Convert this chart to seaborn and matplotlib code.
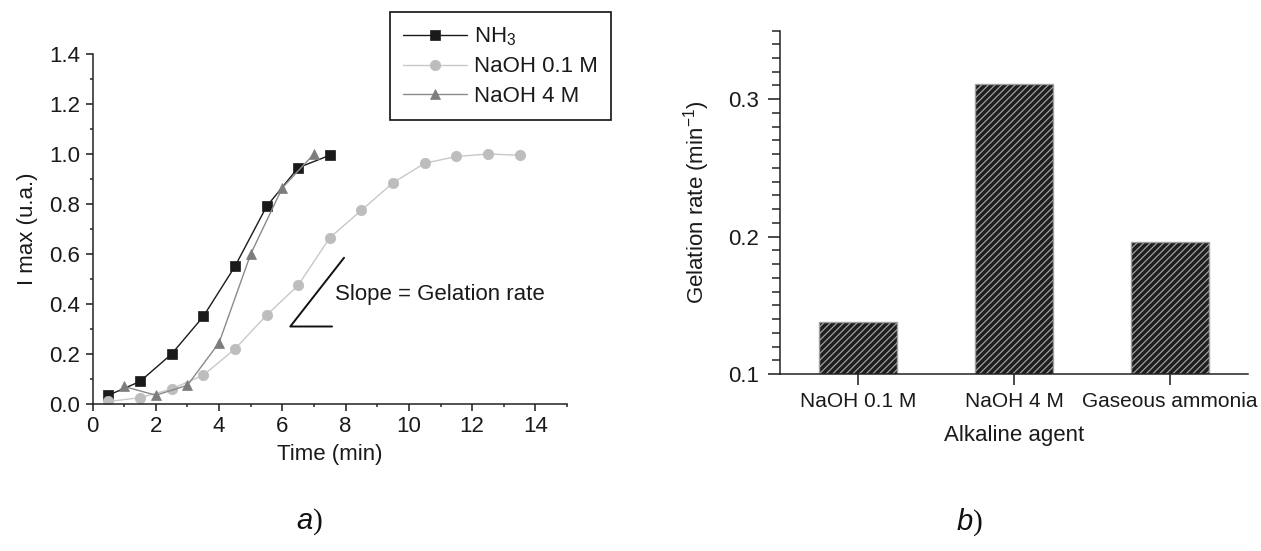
import numpy as np
import pandas as pd
import matplotlib
matplotlib.use("Agg")
import matplotlib.pyplot as plt
from matplotlib.ticker import MultipleLocator
import seaborn as sns

# Gelation kinetics (left panel)
nh3_time = [0.5, 1.5, 2.5, 3.5, 4.5, 5.5, 6.5, 7.5]
nh3_imax = [0.035, 0.09, 0.20, 0.35, 0.55, 0.79, 0.945, 0.995]

naoh01_time = [0.5, 1.5, 2.5, 3.5, 4.5, 5.5, 6.5, 7.5, 8.5, 9.5, 10.5, 11.5, 12.5, 13.5]
naoh01_imax = [0.01, 0.025, 0.06, 0.115, 0.22, 0.355, 0.475, 0.665, 0.775, 0.885,
               0.963, 0.99, 1.0, 0.995]

naoh4_time = [1.0, 2.0, 3.0, 4.0, 5.0, 6.0, 7.0]
naoh4_imax = [0.07, 0.035, 0.075, 0.245, 0.60, 0.865, 1.0]

# Gelation rate per alkaline agent (right panel)
agents = ["NaOH 0.1 M", "NaOH 4 M", "Gaseous ammonia"]
rates = [0.1375, 0.311, 0.196]

sns.set_theme(style="ticks")
plt.rcParams["font.family"] = ["Liberation Sans", "DejaVu Sans"]
plt.rcParams["mathtext.fontset"] = "custom"
plt.rcParams["mathtext.rm"] = "Liberation Sans"
plt.rcParams["mathtext.it"] = "Liberation Sans:italic"
plt.rcParams["hatch.linewidth"] = 0.9
plt.rcParams["axes.linewidth"] = 1.1

FS = 16
TXT = "#1a1a1a"

fig = plt.figure(figsize=(12.61, 5.51), dpi=100)
ax1 = fig.add_axes([0.0734, 0.2668, 0.3763, 0.6352])
ax2 = fig.add_axes([0.6186, 0.3212, 0.3711, 0.6234])

# --- a) kinetics curves
series = [
    ("NH$_3$", nh3_time, nh3_imax, "#1a1a1a", "#1a1a1a", "s", 6.5),
    ("NaOH 0.1 M", naoh01_time, naoh01_imax, "#c8c8c8", "#bdbdbd", "o", 7.5),
    ("NaOH 4 M", naoh4_time, naoh4_imax, "#8a8a8a", "#7d7d7d", "^", 7.5),
]
for label, t, v, lc, mc, mk, ms in series:
    df = pd.DataFrame({"Time": t, "Imax": v})
    sns.lineplot(data=df, x="Time", y="Imax", ax=ax1, color=lc, linewidth=1.0,
                 marker=mk, markersize=ms, markerfacecolor=mc,
                 markeredgecolor=mc, markeredgewidth=0.5, errorbar=None,
                 label=label)

ax1.set_xlim(0, 15)
ax1.set_ylim(0, 1.4)
ax1.xaxis.set_major_locator(MultipleLocator(2))
ax1.xaxis.set_minor_locator(MultipleLocator(1))
ax1.yaxis.set_major_locator(MultipleLocator(0.2))
ax1.yaxis.set_minor_locator(MultipleLocator(0.1))
ax1.yaxis.set_major_formatter(matplotlib.ticker.FormatStrFormatter("%.1f"))
ax1.tick_params(which="major", length=5, width=1.1, pad=4, labelsize=FS, colors=TXT)
ax1.tick_params(which="minor", length=2.5, width=1.1)
ax1.set_xlabel("Time (min)", fontsize=FS, color=TXT, labelpad=5)
ax1.set_ylabel("I max (u.a.)", fontsize=FS, color=TXT, labelpad=8)
for s in ["top", "right"]:
    ax1.spines[s].set_visible(False)
for s in ["left", "bottom"]:
    ax1.spines[s].set_color("#222222")

# slope sketch
slope_x = [7.95, 6.25, 7.57]
slope_y = [0.585, 0.31, 0.31]
ax1.plot(slope_x, slope_y, color="#111111", linewidth=1.4)
ax1.text(7.67, 0.438, "Slope = Gelation rate", fontsize=FS, color=TXT, va="center")

leg = ax1.legend(loc="upper left", bbox_to_anchor=(0.309, 0.978),
                 bbox_transform=fig.transFigure, fontsize=16, frameon=True,
                 fancybox=False, edgecolor="#111111", framealpha=1,
                 handlelength=2.9, handletextpad=0.3, labelspacing=0.38,
                 borderpad=0.6, borderaxespad=0)
leg.get_frame().set_linewidth(1.2)
for t in leg.get_texts():
    t.set_color(TXT)

# --- b) gelation rate bars
bar_df = pd.DataFrame({"Alkaline agent": agents, "Gelation rate": rates})
sns.barplot(data=bar_df, x="Alkaline agent", y="Gelation rate", ax=ax2,
            color="#1e1e1e", saturation=1, width=0.5, edgecolor="#a0a0a0",
            linewidth=1.0, hatch="/////")
ax2.set_xlim(-0.5, 2.5)
ax2.set_ylim(0.1, 0.35)
ax2.yaxis.set_major_locator(MultipleLocator(0.1))
ax2.yaxis.set_minor_locator(MultipleLocator(0.01))
ax2.yaxis.set_major_formatter(matplotlib.ticker.FormatStrFormatter("%.1f"))
ax2.tick_params(axis="y", which="major", length=9, width=1.1, pad=6, labelsize=FS, colors=TXT)
ax2.tick_params(axis="y", which="minor", length=5.5, width=1.1)
ax2.tick_params(axis="x", which="major", length=8, width=1.1, pad=5, labelsize=15, colors=TXT)
ax2.set_xlabel("Alkaline agent", fontsize=FS, color=TXT, labelpad=10)
ax2.set_ylabel("Gelation rate (min$^{-1}$)", fontsize=FS, color=TXT, labelpad=12)
for s in ["top", "right"]:
    ax2.spines[s].set_visible(False)
for s in ["left", "bottom"]:
    ax2.spines[s].set_color("#222222")

# panel captions
fig.text(309 / 1261, 1 - 522 / 551, "$a$)", fontsize=21, ha="center", va="center",
         family=["Liberation Serif", "DejaVu Serif"], color="#111111")
fig.text(969 / 1261, 1 - 522 / 551, "$b$)", fontsize=21, ha="center", va="center",
         family=["Liberation Serif", "DejaVu Serif"], color="#111111")

fig.savefig("out.png", dpi=100, facecolor="white")
